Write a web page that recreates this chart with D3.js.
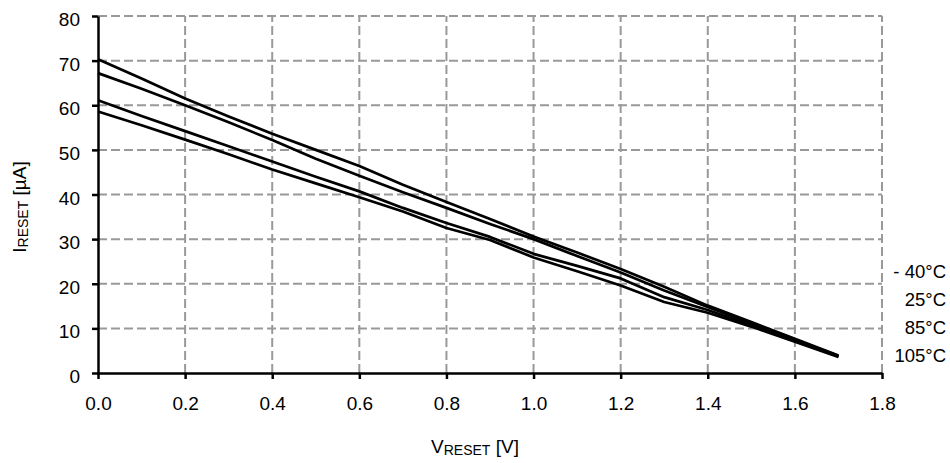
<!DOCTYPE html>
<html>
<head>
<meta charset="utf-8">
<script src="https://cdn.jsdelivr.net/npm/d3@7"></script>
<style>
  body { margin: 0; background: #fff; }
  text { font-family: Arial, "Liberation Sans", sans-serif; fill: #000; }
</style>
</head>
<body>
<svg id="chart" width="950" height="463"></svg>
<script>
var width = 950,
    height = 463;

var margin = {left: 98, right: 68, top: 16, bottom: 90};

// V_RESET [V]
var vReset = [0.0, 0.1, 0.2, 0.3, 0.4, 0.5, 0.6, 0.7, 0.8, 0.9, 1.0, 1.1, 1.2, 1.3, 1.4, 1.5, 1.6, 1.7];

// I_RESET [uA] per temperature
var iMinus40 = [70.3, 66.0, 61.5, 57.5, 53.6, 50.0, 46.4, 42.2, 38.3, 34.5, 30.6, 27.0, 23.3, 19.3, 15.1, 11.4, 7.7, 3.9];
var i25      = [67.2, 63.7, 60.0, 56.2, 52.2, 48.0, 44.2, 40.5, 37.0, 33.4, 30.0, 26.2, 22.5, 18.5, 14.8, 11.1, 7.5, 3.8];
var i85      = [61.1, 57.6, 54.2, 50.8, 47.4, 44.0, 40.7, 37.0, 33.6, 30.5, 26.7, 24.0, 21.2, 17.0, 14.1, 10.7, 7.2, 3.7];
var i105     = [58.6, 55.5, 52.3, 49.0, 45.6, 42.5, 39.4, 36.2, 32.5, 29.8, 25.9, 22.8, 19.6, 15.9, 13.5, 10.4, 7.0, 3.6];

var seriesNames = ['- 40°C', '25°C', '85°C', '105°C'];
var seriesValues = [iMinus40, i25, i85, i105];

var xTicks = [0, 0.2, 0.4, 0.6, 0.8, 1.0, 1.2, 1.4, 1.6, 1.8];
var yTicks = [0, 10, 20, 30, 40, 50, 60, 70, 80];

var svg = d3.select('#chart');

var x = d3.scaleLinear().domain([0, 1.8]).range([margin.left, width - margin.right]);
var y = d3.scaleLinear().domain([0, 80]).range([height - margin.bottom, margin.top]);

// grid
var grid = svg.append('g').attr('class', 'grid')
    .attr('stroke', '#999').attr('stroke-width', 2).attr('stroke-dasharray', '9,4');

grid.selectAll('line.h').data(yTicks.slice(1)).enter()
  .append('line').attr('class', 'h')
  .attr('x1', x(0)).attr('x2', x(1.8))
  .attr('y1', d => y(d)).attr('y2', d => y(d));

grid.selectAll('line.v').data(xTicks.slice(1)).enter()
  .append('line').attr('class', 'v')
  .attr('x1', d => x(d)).attr('x2', d => x(d))
  .attr('y1', y(0)).attr('y2', y(80));

// axes
var xAxis = svg.append('g')
    .attr('transform', 'translate(0,' + y(0) + ')')
    .call(d3.axisBottom(x).tickValues(xTicks).tickFormat(d3.format('.1f')).tickSize(6).tickSizeOuter(0).tickPadding(18));

var yAxis = svg.append('g')
    .attr('transform', 'translate(' + x(0) + ',0)')
    .call(d3.axisLeft(y).tickValues(yTicks).tickSize(6).tickSizeOuter(0).tickPadding(12));

[xAxis, yAxis].forEach(function(a){
  a.select('.domain').attr('stroke', '#000').attr('stroke-width', 2.5);
  a.selectAll('.tick line').attr('stroke', '#000').attr('stroke-width', 2.5);
  a.selectAll('.tick text').attr('font-size', 19).attr('font-family', 'Arial, "Liberation Sans", sans-serif');
});
yAxis.selectAll('.tick text').attr('dy', '0.5em');

// curves
var line = d3.line()
  .x(function(d, i){ return x(vReset[i]); })
  .y(function(d){ return y(d); });

svg.append('g').selectAll('path.curve')
  .data(seriesValues).enter()
  .append('path')
  .attr('class', 'curve')
  .attr('fill', 'none')
  .attr('stroke', '#000')
  .attr('stroke-width', 2.7)
  .attr('stroke-linejoin', 'round')
  .attr('d', line);

// temperature labels
svg.append('g').selectAll('text')
  .data(seriesNames).enter()
  .append('text')
  .attr('x', 946)
  .attr('y', function(d, i){ return 272 + i * 28; })
  .attr('dy', '0.35em')
  .attr('text-anchor', 'end')
  .attr('font-size', 18.5)
  .text(d => d);

// axis titles
var xt = svg.append('text')
  .attr('x', (x(0) + x(1.8)) / 2 - 15)
  .attr('y', 453)
  .attr('text-anchor', 'middle')
  .attr('font-size', 19);
xt.append('tspan').text('V');
xt.append('tspan').attr('font-size', 14).attr('dy', 2).text('RESET');
xt.append('tspan').attr('dy', -2).text(' [V]');

var yt = svg.append('text')
  .attr('transform', 'translate(26,207) rotate(-90)')
  .attr('text-anchor', 'middle')
  .attr('font-size', 19);
yt.append('tspan').text('I');
yt.append('tspan').attr('font-size', 14).attr('dy', 2).text('RESET');
yt.append('tspan').attr('dy', -2).text(' [µA]');
</script>
</body>
</html>
